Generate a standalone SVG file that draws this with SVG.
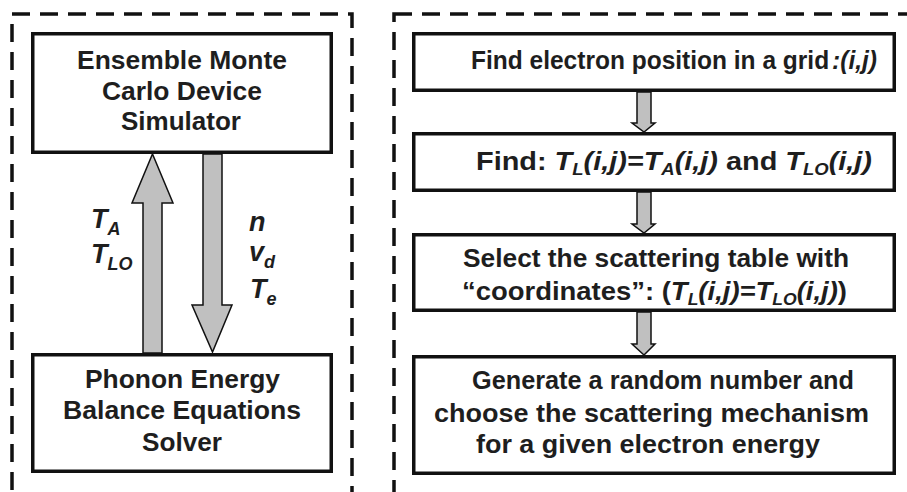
<svg xmlns="http://www.w3.org/2000/svg" width="907" height="492" viewBox="0 0 907 492">
<style>
.frame{fill:none;stroke:#111;stroke-width:3.5;stroke-dasharray:18 10}
.box{fill:#fff;stroke:#111;stroke-width:3.5}
.arr{fill:#c0c0c0;stroke:#111;stroke-width:1.5;stroke-linejoin:miter}
.t{font-family:"Liberation Sans",Arial,sans-serif;font-weight:bold;font-size:25px;fill:#1e1e1e}
.lab{font-family:"Liberation Sans",Arial,sans-serif;font-weight:bold;font-style:italic;font-size:27px;fill:#1e1e1e}
.i{font-style:italic}
.s{font-size:16px}
.ls{font-size:18px}
</style>
<rect width="907" height="492" fill="#fff"/>
<g id="frames">
<rect class="frame" x="12" y="14" width="340" height="500"/>
<rect class="frame" x="394" y="14" width="540" height="500"/>
</g>
<g id="connectors">
<polygon class="arr" points="152.5,154 173,203 162,203 162,353 143,353 143,203 132,203"/>
<polygon class="arr" points="203,154 222,154 222,305 232,305 212.5,352 192,305 203,305"/>
<polygon class="arr" points="637,92 651,92 651,123 655,123 644,132 632,123 637,123"/>
<polygon class="arr" points="637,192 651,192 651,224 655,224 644,233 632,224 637,224"/>
<polygon class="arr" points="637,312 651,312 651,344 655,344 644,355 632,344 637,344"/>
</g>
<g id="labels-left">
<text class="lab" x="91" y="228">T<tspan class="ls" dy="7">A</tspan></text>
<text class="lab" x="91" y="263">T<tspan class="ls" dy="7">LO</tspan></text>
<text class="lab" x="249" y="231">n</text>
<text class="lab" x="249" y="261">v<tspan class="ls" dy="7">d</tspan></text>
<text class="lab" x="250" y="298">T<tspan class="ls" dy="7">e</tspan></text>
</g>
<g id="node-emc">
<rect class="box" x="32.75" y="33.75" width="298.5" height="118.5"/>
<text class="t" x="77" y="69" textLength="210" lengthAdjust="spacingAndGlyphs">Ensemble Monte</text>
<text class="t" x="102" y="99.5" textLength="160" lengthAdjust="spacingAndGlyphs">Carlo Device</text>
<text class="t" x="121" y="130" textLength="120" lengthAdjust="spacingAndGlyphs">Simulator</text>
</g>
<g id="node-phonon">
<rect class="box" x="32.75" y="354.75" width="298.5" height="116.5"/>
<text class="t" x="85" y="388" textLength="195" lengthAdjust="spacingAndGlyphs">Phonon Energy</text>
<text class="t" x="63" y="419" textLength="238" lengthAdjust="spacingAndGlyphs">Balance Equations</text>
<text class="t" x="142" y="450.5" textLength="80" lengthAdjust="spacingAndGlyphs">Solver</text>
</g>
<g id="node-find-position">
<rect class="box" x="413.75" y="33.75" width="480.5" height="56.5"/>
<text class="t" x="471" y="69" textLength="406" lengthAdjust="spacingAndGlyphs">Find electron position in a grid<tspan class="i" dx="3">:(i,j)</tspan></text>
</g>
<g id="node-find-temps">
<rect class="box" x="413.75" y="133.75" width="480.5" height="56.5"/>
<text class="t" x="476" y="170" textLength="396" lengthAdjust="spacingAndGlyphs">Find: <tspan class="i">T</tspan><tspan class="i s" dy="5">L</tspan><tspan class="i" dy="-5">(i,j)=T</tspan><tspan class="i s" dy="5">A</tspan><tspan class="i" dy="-5">(i,j)</tspan> and <tspan class="i">T</tspan><tspan class="i s" dy="5">LO</tspan><tspan class="i" dy="-5">(i,j)</tspan></text>
</g>
<g id="node-select-table">
<rect class="box" x="413.75" y="234.75" width="480.5" height="75.5"/>
<text class="t" x="463" y="267" textLength="386" lengthAdjust="spacingAndGlyphs">Select the scattering table with</text>
<text class="t" x="462" y="300" textLength="385" lengthAdjust="spacingAndGlyphs">“coordinates”: (<tspan class="i">T</tspan><tspan class="i s" dy="5">L</tspan><tspan class="i" dy="-5">(i,j)=T</tspan><tspan class="i s" dy="5">LO</tspan><tspan class="i" dy="-5">(i,j)</tspan>)</text>
</g>
<g id="node-generate">
<rect class="box" x="413.75" y="356.75" width="480.5" height="116.5"/>
<text class="t" x="472" y="389" textLength="382" lengthAdjust="spacingAndGlyphs">Generate a random number and</text>
<text class="t" x="434" y="422" textLength="435" lengthAdjust="spacingAndGlyphs">choose the scattering mechanism</text>
<text class="t" x="476" y="453" textLength="344" lengthAdjust="spacingAndGlyphs">for a given electron energy</text>
</g>
</svg>
